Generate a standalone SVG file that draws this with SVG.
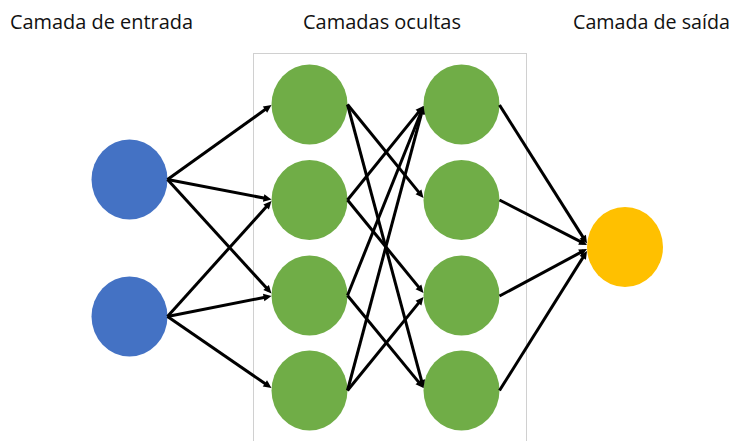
<svg xmlns="http://www.w3.org/2000/svg" width="732" height="441" viewBox="0 0 732 441">
<style>
.lbl{font-family:"Open Sans","Liberation Sans",sans-serif;font-size:19.5px;fill:#111}
.in{fill:#4472C4}
.hid{fill:#70AD47}
.out{fill:#FFC000}
.c line{stroke:#000;stroke-width:3;marker-end:url(#ah)}
</style>
<defs>
<marker id="ah" markerUnits="userSpaceOnUse" markerWidth="10" markerHeight="9" refX="4" refY="3.75" orient="auto" overflow="visible">
<path d="M0,0 L8,3.75 L0,7.5 z" fill="#000"/>
</marker>
</defs>
<rect width="732" height="441" fill="#fff"/>
<text class="lbl" x="10" y="29" textLength="183" lengthAdjust="spacingAndGlyphs">Camada de entrada</text>
<text class="lbl" x="303" y="29" textLength="158" lengthAdjust="spacingAndGlyphs">Camadas ocultas</text>
<text class="lbl" x="573" y="29" textLength="157" lengthAdjust="spacingAndGlyphs">Camada de saída</text>
<rect id="hidden-box" x="253.5" y="53.5" width="273" height="400" fill="none" stroke="#d0d0d0" stroke-width="1"/>
<g id="in1"><ellipse class="in" cx="129.5" cy="179.5" rx="38" ry="40"/></g>
<g id="in2"><ellipse class="in" cx="129.5" cy="316.5" rx="38" ry="40"/></g>
<g id="h1a"><ellipse class="hid" cx="309.5" cy="104.5" rx="38" ry="40"/></g>
<g id="h1b"><ellipse class="hid" cx="309.5" cy="200" rx="38" ry="40"/></g>
<g id="h1c"><ellipse class="hid" cx="309.5" cy="295.5" rx="38" ry="40"/></g>
<g id="h1d"><ellipse class="hid" cx="309.5" cy="390.5" rx="38" ry="40"/></g>
<g id="h2a"><ellipse class="hid" cx="461.5" cy="104.5" rx="38" ry="40"/></g>
<g id="h2b"><ellipse class="hid" cx="461.5" cy="200" rx="38" ry="40"/></g>
<g id="h2c"><ellipse class="hid" cx="461.5" cy="295.5" rx="38" ry="40"/></g>
<g id="h2d"><ellipse class="hid" cx="461.5" cy="390.5" rx="38" ry="40"/></g>
<g id="out"><ellipse class="out" cx="625" cy="247" rx="38" ry="40"/></g>
<g id="connectors" class="c">
<line x1="167.5" y1="179.5" x2="268.25" y2="107.33"/>
<line x1="167.5" y1="179.5" x2="267.57" y2="198.74"/>
<line x1="167.5" y1="179.5" x2="268.8" y2="290.54"/>
<line x1="167.5" y1="316.5" x2="268.82" y2="203.97"/>
<line x1="167.5" y1="316.5" x2="267.58" y2="296.77"/>
<line x1="167.5" y1="316.5" x2="268.2" y2="385.73"/>
<line x1="347.5" y1="104.5" x2="420.98" y2="194.9"/>
<line x1="347.5" y1="104.5" x2="422.46" y2="384.14"/>
<line x1="347.5" y1="200" x2="420.98" y2="109.11"/>
<line x1="347.5" y1="200" x2="420.97" y2="289.9"/>
<line x1="347.5" y1="295.5" x2="422.01" y2="109.71"/>
<line x1="347.5" y1="295.5" x2="420.96" y2="384.91"/>
<line x1="347.5" y1="390.5" x2="422.47" y2="109.86"/>
<line x1="347.5" y1="390.5" x2="420.98" y2="300.1"/>
<line x1="499.5" y1="105" x2="584.86" y2="240.12"/>
<line x1="499.5" y1="200" x2="583.44" y2="243.17"/>
<line x1="499.5" y1="296" x2="583.48" y2="250.89"/>
<line x1="499.5" y1="390.5" x2="584.88" y2="254.39"/>
</g>
</svg>
